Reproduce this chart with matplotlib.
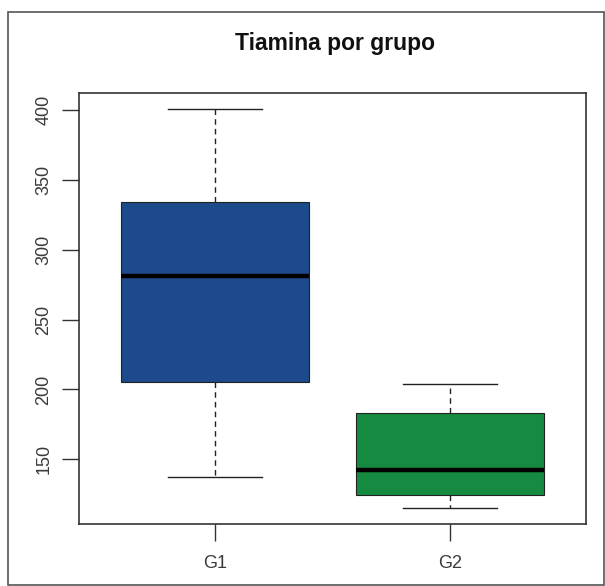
import matplotlib
matplotlib.use("Agg")
import matplotlib.pyplot as plt
from matplotlib.patches import Rectangle

# valores (tiamina por grupo)
grupos = ["G1", "G2"]
whisker_lo = [137, 115]
q1 = [205, 124]
mediana = [281, 142]
q3 = [334, 183]
whisker_hi = [401, 204]
colores = ["#1c4a8c", "#178a42"]
yticks = [150, 200, 250, 300, 350, 400]

plt.rcParams['font.family'] = ['Liberation Sans', 'DejaVu Sans']

fig = plt.figure(figsize=(6.05, 5.86), dpi=100)
ax = fig.add_axes([79/605, 62/586, (586-79)/605, (524-93)/586])

stats = []
for i in range(len(grupos)):
    stats.append({"label": grupos[i], "whislo": whisker_lo[i], "q1": q1[i],
                  "med": mediana[i], "q3": q3[i], "whishi": whisker_hi[i]})

bp = ax.bxp(stats, positions=[1, 2], widths=0.8, patch_artist=True, showfliers=False,
            boxprops=dict(linewidth=0.8, edgecolor="#222222"),
            medianprops=dict(color="black", linewidth=3.2),
            whiskerprops=dict(color="#222222", linewidth=1.0, linestyle=(0, (4, 3))),
            capprops=dict(color="#222222", linewidth=1.0),
            capwidths=0.4)
for patch, c in zip(bp["boxes"], colores):
    patch.set_facecolor(c)

lo = min(whisker_lo)
hi = max(whisker_hi)
pad = (hi - lo) * 0.04
ax.set_ylim(lo - pad, hi + pad)
ax.set_xlim(0.42, 2.58)

ax.set_yticks(yticks)
ax.set_yticklabels([str(v) for v in yticks], rotation=90, va="center")
ax.set_xticks([1, 2])
ax.set_xticklabels(grupos)
ax.tick_params(axis="both", length=12, width=1.0, color="#333333",
               labelcolor="#3a3a3a", labelsize=13)
ax.tick_params(axis="x", pad=10)
ax.tick_params(axis="y", pad=7)
for s in ax.spines.values():
    s.set_linewidth(1.2)
    s.set_color("#333333")

fig.text(0.553, 0.926, "Tiamina por grupo", ha="center", va="center",
         fontsize=16.5, fontweight="bold", color="#111111")

# marco exterior
fig.patches.append(Rectangle((8/605, 1/586), 596/605, 573/586, transform=fig.transFigure,
                             fill=False, edgecolor="#555555", linewidth=1.2))

fig.savefig("out.png", dpi=100)
